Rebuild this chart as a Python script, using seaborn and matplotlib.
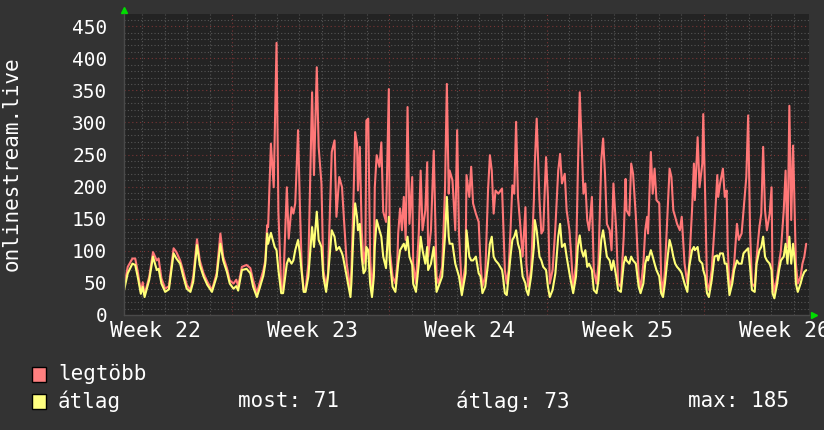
import pandas as pd
import matplotlib
matplotlib.use("Agg")
import matplotlib.pyplot as plt
from matplotlib.patches import Rectangle
from matplotlib.ticker import MultipleLocator, FixedLocator
import seaborn as sns

# hours since the left edge of the graph (about one sample every 2-4 hours)
hours = [
    0, 4, 9, 12, 15, 18, 20, 22, 27, 31, 35, 37, 40, 44, 48, 53, 56, 60, 63, 67,
    71, 74, 78, 81, 85, 89, 94, 99, 103, 106, 110, 113, 117, 120, 122, 126, 131, 135, 138, 142,
    145, 149, 151, 153, 154, 157, 160, 161, 163, 165, 168, 170, 174, 176, 179, 181, 183, 186, 188, 190,
    192, 194, 197, 201, 203, 206, 208, 211, 213, 216, 218, 222, 225, 227, 230, 233, 234, 238, 242,
    243, 245, 247, 249, 250, 252, 254, 256, 258, 259, 261, 263, 265, 267, 268, 270, 273, 275, 277, 280,
    283, 284, 287, 290, 292, 293, 295, 297, 299, 301, 303, 305, 308, 309, 312, 315, 317, 319, 322, 324,
    325, 328, 331, 334, 336, 340, 343, 345, 347, 348, 351, 354, 356, 358, 361, 365, 366, 369,
    371, 373, 376, 379, 381, 383, 386, 389, 391, 393, 395, 397, 400, 404, 405, 407, 409, 411, 413, 415,
    417, 419, 421, 423, 426, 429, 430, 432, 435, 438, 439, 441, 444, 446, 448, 451, 453, 455, 458, 461,
    464, 466, 468, 471, 473, 476, 478, 480, 483, 485, 487, 489,
    491, 493, 495, 497, 500, 502, 505, 507, 510, 512, 514, 516, 519, 521, 523, 526, 528, 531, 534, 536,
    537, 540, 542, 544, 547, 550, 552, 555, 557, 559, 560, 563, 565, 567, 569, 572, 574, 576, 578, 581,
    583, 585, 587, 589, 591, 594, 596, 599, 602, 604, 607, 609, 610, 613, 615,
    618, 619, 621, 623, 625, 628, 631, 634, 635, 637, 640, 642, 644, 645, 647, 650, 652, 655, 657, 660,
    662, 665, 667, 669, 671, 674, 676, 679, 681, 683, 685, 687, 690, 692, 693, 695, 698, 700, 702, 705,
    707, 709, 711, 713, 715, 717, 718, 720, 723, 725, 727, 729,
]

legtobb = [
    44, 75, 88, 88, 65, 36, 51, 32, 60, 98, 85, 88, 57, 41, 45, 104, 98, 85, 70, 47,
    39, 60, 118, 85, 65, 52, 39, 65, 127, 91, 73, 54, 49, 55, 45, 75, 78, 73, 54, 34,
    50, 70, 85, 140, 137, 267, 199, 272, 424, 161, 41, 39, 199, 119, 168, 158, 174, 288, 168, 70,
    39, 39, 80, 347, 218, 386, 262, 205, 70, 44, 65, 254, 272, 153, 215, 199, 174, 80, 39,
    70, 168, 285, 267, 194, 262, 132, 80, 101, 303, 306, 91, 34, 80, 199, 249, 231, 269, 161, 145,
    352, 101, 60, 49, 80, 127, 166, 132, 184, 117, 324, 142, 215, 80, 49, 127, 225, 132, 163, 238,
    91, 132, 256, 60, 49, 75, 194, 360, 189, 225, 210, 132, 288, 127, 39, 80, 218, 184,
    231, 174, 158, 145, 80, 44, 60, 194, 249, 225, 158, 194, 189, 197, 153, 70, 49, 70, 132, 202,
    189, 301, 184, 148, 91, 168, 80, 44, 70, 179, 236, 306, 179, 127, 132, 246, 184, 49, 70, 137,
    225, 251, 205, 220, 163, 132, 91, 41, 80, 225, 347, 267,
    189, 205, 148, 132, 184, 70, 49, 80, 241, 275, 220, 142, 132, 101, 205, 132, 49, 44, 122, 212,
    163, 155, 236, 220, 153, 60, 39, 80, 132, 153, 127, 254, 189, 228, 179, 174, 60, 34, 70, 163,
    228, 215, 163, 153, 142, 132, 153, 80, 49, 80, 163, 236, 179, 277, 199,
    236, 313, 189, 49, 39, 70, 137, 218, 184, 205, 228, 184, 194, 111, 39, 60, 80, 142, 117, 127,
    163, 215, 311, 132, 49, 44, 90, 137, 158, 262, 163, 132, 158, 199, 60, 34, 60, 80, 101, 163,
    225, 106, 326, 148, 264, 142, 80, 49, 60, 80, 91, 111,
]

atlag = [
    38, 65, 80, 78, 57, 33, 44, 28, 55, 91, 70, 72, 49, 36, 40, 96, 88, 80, 62, 41,
    36, 52, 109, 78, 60, 47, 36, 60, 111, 85, 67, 49, 41, 45, 38, 70, 72, 65, 44, 28,
    42, 62, 80, 127, 111, 128, 111, 106, 101, 70, 34, 34, 80, 88, 80, 85, 101, 117, 96, 65,
    36, 36, 60, 137, 106, 161, 117, 106, 60, 36, 60, 132, 122, 101, 106, 96, 91, 60, 28,
    50, 122, 174, 153, 132, 142, 91, 65, 70, 106, 101, 49, 28, 60, 106, 148, 132, 122, 91, 73,
    153, 85, 44, 36, 65, 80, 101, 106, 111, 101, 122, 91, 78, 49, 36, 80, 122, 101, 80, 106,
    70, 80, 106, 36, 44, 60, 122, 184, 122, 111, 111, 80, 70, 60, 31, 65, 132, 91,
    85, 85, 91, 65, 60, 34, 44, 80, 111, 122, 91, 85, 80, 70, 60, 34, 31, 60, 91, 117,
    122, 132, 111, 101, 60, 49, 39, 31, 60, 106, 148, 132, 91, 85, 75, 70, 44, 28, 39, 65,
    122, 142, 106, 111, 91, 65, 49, 34, 60, 106, 124, 101,
    91, 101, 75, 80, 70, 39, 34, 54, 117, 132, 111, 91, 85, 70, 85, 60, 39, 36, 80, 91,
    85, 80, 91, 85, 80, 44, 34, 49, 80, 91, 85, 101, 91, 80, 70, 60, 34, 28, 49, 91,
    117, 106, 91, 80, 75, 70, 65, 49, 36, 75, 101, 106, 101, 106, 85,
    80, 70, 60, 34, 28, 54, 91, 93, 85, 96, 96, 80, 80, 65, 31, 49, 70, 85, 80, 80,
    96, 101, 104, 75, 39, 36, 80, 101, 106, 122, 91, 85, 80, 70, 34, 26, 49, 70, 85, 91,
    111, 80, 122, 80, 111, 80, 49, 36, 49, 60, 67, 70,
]

week_labels = ["Week 22", "Week 23", "Week 24", "Week 25", "Week 26"]
week_label_hours = [-15, 153, 321, 489, 657]   # left edge of each label
week_lines = [115.5, 283.5, 451.5, 619.5]       # major (red) vertical grid
day_lines = [19.5 + 24 * i for i in range(31)]
stats = ["most: 71", "átlag: 73", "max: 185"]

series_names = ["legtöbb", "átlag"]
colors = {"legtöbb": "#ff7777", "átlag": "#ffff77"}
legend_colors = ["#ff8080", "#ffff80"]

df = pd.concat([
    pd.DataFrame({"hour": hours, "value": legtobb, "series": "legtöbb"}),
    pd.DataFrame({"hour": hours, "value": atlag, "series": "átlag"}),
])

sns.set_style("dark")
plt.rcParams["font.family"] = ["DejaVu Sans Mono", "DejaVu Sans"]

fig = plt.figure(figsize=(8.24, 4.30), dpi=100, facecolor="#333333")
ax = fig.add_axes([124 / 824, 1 - 315 / 430, 685 / 824, 301 / 430])
ax.set_facecolor("#232323")

sns.lineplot(data=df, x="hour", y="value", hue="series", hue_order=series_names,
             palette=colors, estimator=None, linewidth=1.5, legend=False, ax=ax)

ax.set_xlim(0, 732)
ax.set_ylim(0, 469)

# grid like rrdtool: dotted grey minor, dotted dark red major
ax.xaxis.set_major_locator(FixedLocator(week_lines))
ax.xaxis.set_minor_locator(FixedLocator(day_lines))
ax.yaxis.set_major_locator(MultipleLocator(50))
ax.yaxis.set_minor_locator(MultipleLocator(10))
ax.grid(which="minor", color="#555555", linestyle=(0, (1, 2)), linewidth=0.8)
ax.grid(which="major", color="#7a3535", linestyle=(0, (1, 2.5)), linewidth=0.8)
ax.set_axisbelow(True)

ax.set_xticklabels([])
ax.set_yticks(range(0, 451, 50))
ax.tick_params(axis="y", which="both", length=0, pad=12, labelsize=14, labelcolor="#ffffff")
ax.tick_params(axis="x", which="both", length=0)
ax.set_xlabel("")
ax.set_ylabel("")

for s in ["top", "right"]:
    ax.spines[s].set_visible(False)
for s in ["left", "bottom"]:
    ax.spines[s].set_color("#4a4a4a")
    ax.spines[s].set_linewidth(1)

for lbl, h in zip(week_labels, week_label_hours):
    ax.text(h, -0.052, lbl, transform=ax.get_xaxis_transform(), ha="left", va="center",
            fontsize=15.5, color="#ffffff")

# little green arrows at the axis ends
ax.plot([0], [1.012], marker="^", color="#00dd00", markersize=5, transform=ax.transAxes, clip_on=False)
ax.plot([1.008], [0], marker=">", color="#00dd00", markersize=5, transform=ax.transAxes, clip_on=False)

fig.text(12 / 824, 1 - 164 / 430, "onlinestream.live", rotation=90, ha="center", va="center",
         fontsize=15, color="#ffffff")

# legend rows
rows_y = [374, 401]
for name, col, y in zip(series_names, legend_colors, rows_y):
    fig.patches.append(Rectangle((32 / 824, 1 - (y + 7.5) / 430), 14 / 824, 15 / 430,
                                 transform=fig.transFigure, facecolor=col, edgecolor="#000000",
                                 linewidth=1))
    fig.text(58 / 824, 1 - y / 430, name, ha="left", va="center", fontsize=15, color="#ffffff")

for txt, x in zip(stats, [238, 456, 688]):
    fig.text(x / 824, 1 - 401 / 430, txt, ha="left", va="center", fontsize=15, color="#ffffff")

fig.savefig("out.png", dpi=100, facecolor=fig.get_facecolor())
